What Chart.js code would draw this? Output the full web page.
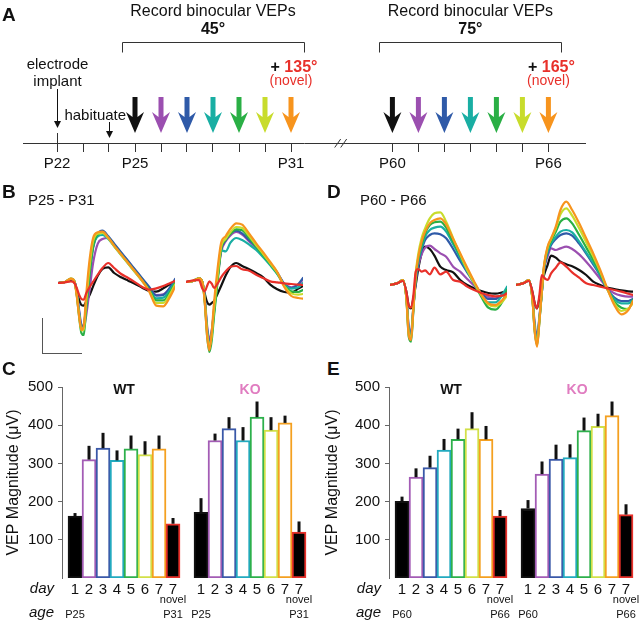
<!DOCTYPE html>
<html>
<head>
<meta charset="utf-8">
<script src="https://cdn.jsdelivr.net/npm/chart.js@4.4.1/dist/chart.umd.min.js"></script>
<style>
  body { margin: 0; background: #fff; }
  #page { position: relative; width: 640px; height: 621px; overflow: hidden;
          font-family: "Liberation Sans", Arial, Helvetica, sans-serif; color: #111; }
  #page canvas, #page .lbl, #page .scalebar { position: absolute; }
  .lbl { line-height: 1; white-space: nowrap; }
  .panel { font-weight: bold; font-size: 19px; }
  .sub { font-size: 15px; }
  .scalebar { background: #555; }
</style>
</head>
<body>
<div id="page">
  <canvas id="timeline" width="640" height="175" style="left:0;top:0;width:640px;height:175px"></canvas>
  <canvas id="traceWt25" width="117" height="200" style="left:58px;top:183px;width:117px;height:200px"></canvas>
  <canvas id="traceKo25" width="117" height="200" style="left:186px;top:182px;width:117px;height:200px"></canvas>
  <canvas id="traceWt60" width="117" height="200" style="left:390px;top:185px;width:117px;height:200px"></canvas>
  <canvas id="traceKo60" width="117" height="200" style="left:516px;top:185px;width:117px;height:200px"></canvas>
  <canvas id="barsP25" width="320" height="241" style="left:0;top:380px;width:320px;height:241px"></canvas>
  <canvas id="barsP60" width="320" height="241" style="left:320px;top:380px;width:320px;height:241px"></canvas>

  <div class="lbl panel" style="left:2px;top:5px">A</div>
  <div class="lbl panel" style="left:2px;top:182px">B</div>
  <div class="lbl sub" style="left:28px;top:192px">P25 - P31</div>
  <div class="lbl panel" style="left:327px;top:182px">D</div>
  <div class="lbl sub" style="left:360px;top:192px">P60 - P66</div>
  <div class="lbl panel" style="left:2px;top:359px">C</div>
  <div class="lbl panel" style="left:327px;top:359px">E</div>

  <div class="scalebar" style="left:42px;top:318px;width:1px;height:36px"></div>
  <div class="scalebar" style="left:42px;top:353px;width:40px;height:1px"></div>
</div>
<script>
// ---------- panel A: experiment timeline ----------
const tickDays = [22, 23, 24, 25, 26, 27, 28, 29, 30, 31, 60, 61, 62, 63, 64, 65, 66];
const labeledDays = [22, 25, 31, 60, 66];
const recordDays = [25, 26, 27, 28, 29, 30, 31, 60, 61, 62, 63, 64, 65, 66];
const implantDay = 22;
const habituateDay = 24;
const windowFirst = [25, 60];
const windowLast = [31, 66];
const trainAngles = ['45°', '75°'];
const novelAngles = ['135°', '165°'];

// ---------- panels B, D: averaged VEP waveforms (µV vs ms) ----------
const traceTimes = [0, 30, 55, 70, 80, 90, 100, 110, 120, 135, 150, 170, 190, 215, 240, 270, 300, 330, 360, 390, 420, 450, 480, 500];

const wt25Day1 = [0, 3, 8, 3, -20, -50, -66, -68, -56, -36, -10, 22, 42, 47, 30, 17, 7, -3, -14, -24, -26, -16, -3, 6];
const wt25Day2 = [0, 3, 12, 5, -25, -80, -125, -132, -100, -20, 60, 118, 132, 135, 115, 90, 64, 38, 12, -14, -36, -34, -14, 5];
const wt25Day3 = [0, 3, 12, 5, -30, -85, -130, -125, -70, 25, 105, 148, 157, 140, 118, 92, 66, 40, 14, -12, -38, -36, -12, 12];
const wt25Day4 = [0, 3, 12, 5, -32, -90, -138, -135, -70, 35, 110, 140, 144, 132, 110, 84, 58, 32, 6, -20, -46, -44, -20, 3];
const wt25Day5 = [0, 3, 13, 5, -35, -100, -150, -156, -80, 30, 110, 146, 150, 136, 112, 86, 60, 34, 8, -20, -52, -52, -26, 0];
const wt25Day6 = [0, 3, 13, 5, -35, -95, -142, -140, -60, 50, 125, 148, 150, 134, 110, 84, 58, 32, 6, -24, -60, -60, -32, -5];
const wt25Day7 = [0, 3, 13, 5, -38, -98, -141, -130, -40, 70, 135, 152, 154, 136, 112, 86, 60, 34, 7, -26, -68, -70, -40, -12];
const wt25Novel = [0, 2, 5, 0, -15, -35, -48, -50, -32, -12, 4, 25, 45, 60, 45, 27, 15, 2, -12, -20, -16, -9, 0, 6];

const ko25Day1 = [0, 3, 8, -10, -35, -60, -68, -63, -57, -35, -12, 20, 45, 57, 48, 38, 27, 14, -8, -22, -30, -32, -20, -12];
const ko25Day2 = [0, 3, 11, 0, -45, -130, -170, -145, -85, 10, 90, 122, 140, 150, 142, 122, 102, 80, 55, 28, -5, -16, -8, 8];
const ko25Day3 = [0, 3, 11, 0, -50, -140, -185, -150, -80, 15, 96, 126, 146, 154, 146, 126, 106, 82, 56, 28, -6, -18, -6, 12];
const ko25Day4 = [0, 3, 11, 0, -50, -145, -190, -160, -90, 10, 95, 92, 118, 132, 126, 112, 96, 74, 50, 24, -8, -20, -16, -3];
const ko25Day5 = [0, 3, 11, 0, -58, -160, -210, -175, -100, 0, 98, 128, 145, 158, 155, 132, 106, 80, 54, 26, -10, -28, -30, -24];
const ko25Day6 = [0, 3, 11, 0, -55, -150, -195, -160, -80, 20, 105, 130, 150, 165, 162, 138, 110, 84, 56, 28, -12, -34, -38, -36];
const ko25Day7 = [0, 3, 11, 0, -60, -160, -205, -150, -60, 40, 117, 138, 160, 176, 172, 145, 116, 89, 60, 30, -15, -42, -48, -50];
const ko25Novel = [0, 5, 6, -20, -28, -12, 2, -5, -18, -5, 14, 32, 46, 48, 38, 34, 22, 12, 2, -1, -4, -6, -8, -9];

const wt60Day1 = [0, 5, 12, -20, -62, -70, -40, 0, 45, 95, 115, 108, 88, 55, 45, 38, 15, 0, -10, -18, -24, -26, -22, -18];
const wt60Day2 = [0, 5, 15, -35, -125, -140, -65, 10, 55, 92, 112, 118, 108, 95, 85, 55, 40, 18, -2, -25, -36, -40, -28, -15];
const wt60Day3 = [0, 5, 15, -36, -130, -145, -65, 15, 65, 105, 135, 150, 155, 152, 140, 108, 72, 38, 5, -25, -42, -42, -28, -15];
const wt60Day4 = [0, 5, 15, -38, -140, -155, -70, 20, 70, 112, 145, 165, 172, 175, 160, 122, 82, 42, 5, -30, -52, -52, -30, -5];
const wt60Day5 = [0, 5, 15, -40, -155, -170, -75, 25, 75, 120, 155, 180, 188, 190, 172, 130, 88, 46, 6, -35, -68, -74, -50, -15];
const wt60Day6 = [0, 5, 15, -40, -145, -158, -65, 35, 90, 140, 170, 200, 215, 218, 190, 140, 92, 45, 5, -30, -58, -64, -50, -32];
const wt60Day7 = [0, 5, 15, -40, -150, -165, -70, 30, 80, 130, 160, 185, 195, 200, 182, 138, 95, 52, 10, -28, -55, -60, -45, -28];
const wt60Novel = [0, 5, 12, -20, -62, -68, -30, 40, 48, 40, 44, 32, 52, 32, 40, 15, 10, -5, -15, -24, -30, -34, -32, -25];

const ko60Day1 = [0, 5, 12, -20, -55, -70, -40, -5, 30, 60, 88, 82, 70, 62, 56, 45, 30, 10, 0, -8, -12, -16, -19, -20];
const ko60Day2 = [0, 5, 15, -35, -115, -155, -95, -25, 45, 85, 110, 105, 110, 115, 108, 92, 70, 45, 18, -10, -25, -32, -35, -35];
const ko60Day3 = [0, 5, 15, -35, -125, -165, -100, -25, 50, 95, 120, 138, 150, 155, 148, 124, 94, 62, 28, -12, -38, -48, -48, -42];
const ko60Day4 = [0, 5, 15, -40, -130, -170, -105, -25, 50, 100, 125, 145, 160, 165, 158, 130, 98, 66, 30, -12, -42, -55, -55, -45];
const ko60Day5 = [0, 5, 15, -40, -140, -180, -110, -25, 55, 108, 132, 160, 190, 200, 185, 150, 113, 76, 35, -12, -50, -68, -72, -45];
const ko60Day6 = [0, 5, 15, -40, -135, -178, -105, -20, 58, 112, 138, 170, 212, 230, 208, 170, 128, 86, 40, -12, -55, -78, -70, -55];
const ko60Day7 = [0, 5, 15, -40, -140, -185, -110, -20, 60, 115, 140, 175, 225, 250, 225, 185, 140, 95, 45, -10, -60, -88, -75, -48];
const ko60Novel = [0, 5, 12, -20, -55, -70, -30, 30, 22, 15, 35, 52, 68, 55, 38, 22, 5, 0, -5, -10, -15, -20, -26, -30];

// ---------- panels C, E: VEP magnitude (µV), mean and SEM ----------
const dayLabels = ['1', '2', '3', '4', '5', '6', '7', '7'];
const wtSlots = [1, 2, 3, 4, 5, 6, 7, 8];
const koSlots = [10, 11, 12, 13, 14, 15, 16, 17];
const agesP25 = ['P25', 'P31'];
const agesP60 = ['P60', 'P66'];

const wtP25 = [162, 310, 340, 308, 338, 323, 338, 142];
const wtP25Sem = [8, 36, 40, 26, 35, 35, 35, 15];
const koP25 = [172, 360, 391, 360, 421, 387, 406, 120];
const koP25Sem = [37, 18, 30, 35, 41, 34, 19, 28];

const wtP60 = [201, 264, 289, 335, 363, 391, 363, 162];
const wtP60Sem = [12, 23, 31, 29, 28, 43, 35, 16];
const koP60 = [182, 272, 311, 315, 386, 397, 425, 166];
const koP60Sem = [22, 33, 38, 35, 34, 33, 37, 27];

// ---------- styling ----------
const FONT = '"Liberation Sans", Arial, Helvetica, sans-serif';
const RED = '#e8302a';
const KO_PINK = '#e07cc0';
const dayColors = ['#111111', '#9b4fb0', '#2f5aa8', '#19aea3', '#2aaf45', '#c8dc2c', '#f7941d', RED];
const barEdges = ['#111111', '#a35cb5', '#3a58a8', '#22aabf', '#2db04b', '#d2e048', '#f4a020', RED];
const barFills = ['#000000', '#ffffff', '#ffffff', '#ffffff', '#ffffff', '#ffffff', '#ffffff', '#000000'];

Chart.defaults.font.family = FONT;
Chart.defaults.color = '#111';

function text(ctx, str, x, y, font, color, align) {
  ctx.font = font;
  ctx.fillStyle = color;
  ctx.textAlign = align || 'center';
  ctx.textBaseline = 'alphabetic';
  ctx.fillText(str, x, y);
}

// axis break: the second recording window is drawn right after a short gap
function slot(day) {
  return day < 45 ? day - 22 : day - 60 + 12.9;
}

function fatArrow(ctx, x, color) {
  ctx.fillStyle = color;
  ctx.beginPath();
  ctx.moveTo(x - 2.5, 97);
  ctx.lineTo(x + 2.5, 97);
  ctx.lineTo(x + 2.5, 117);
  ctx.lineTo(x + 9, 112);
  ctx.lineTo(x, 133);
  ctx.lineTo(x - 9, 112);
  ctx.lineTo(x - 2.5, 117);
  ctx.closePath();
  ctx.fill();
}

function thinArrow(ctx, x, y0, y1) {
  ctx.strokeStyle = '#111';
  ctx.fillStyle = '#111';
  ctx.lineWidth = 1;
  ctx.beginPath();
  ctx.moveTo(x, y0);
  ctx.lineTo(x, y1 - 5);
  ctx.stroke();
  ctx.beginPath();
  ctx.moveTo(x - 3.5, y1 - 7);
  ctx.lineTo(x + 3.5, y1 - 7);
  ctx.lineTo(x, y1);
  ctx.closePath();
  ctx.fill();
}

const timelineMarks = {
  id: 'timelineMarks',
  afterDraw(chart) {
    const ctx = chart.ctx;
    const xs = chart.scales.x;
    const px = d => xs.getPixelForValue(slot(d));
    const half = xs.getPixelForValue(0.5) - xs.getPixelForValue(0);
    const axisY = chart.chartArea.bottom;
    ctx.save();

    chart.getDatasetMeta(0).data.forEach((pt, i) => fatArrow(ctx, pt.x, dayColors[i % 7]));

    for (let w = 0; w < windowFirst.length; w++) {
      const a = Math.round(px(windowFirst[w]) - half) + 0.5;
      const b = Math.round(px(windowLast[w]) + half) + 0.5;
      const mid = (px(windowFirst[w]) + px(windowLast[w])) / 2;
      text(ctx, 'Record binocular VEPs', mid, 16, '16px ' + FONT, '#111', 'center');
      text(ctx, trainAngles[w], mid, 33.5, 'bold 16px ' + FONT, '#111', 'center');
      ctx.strokeStyle = '#333';
      ctx.lineWidth = 1;
      ctx.beginPath();
      ctx.moveTo(a, 52.5);
      ctx.lineTo(a, 42.5);
      ctx.lineTo(b, 42.5);
      ctx.lineTo(b, 52.5);
      ctx.stroke();

      const last = px(windowLast[w]);
      ctx.font = 'bold 16px ' + FONT;
      const wPlus = ctx.measureText('+ ').width;
      const wAng = ctx.measureText(novelAngles[w]).width;
      const x0 = last + 3 - (wPlus + wAng) / 2;
      text(ctx, '+ ', x0, 72, 'bold 16px ' + FONT, '#111', 'left');
      text(ctx, novelAngles[w], x0 + wPlus, 72, 'bold 16px ' + FONT, RED, 'left');
      text(ctx, '(novel)', last, 85, '14px ' + FONT, RED, 'center');
    }

    const xi = Math.round(px(implantDay)) + 0.5;
    text(ctx, 'electrode', xi, 69, '15px ' + FONT, '#111', 'center');
    text(ctx, 'implant', xi, 86, '15px ' + FONT, '#111', 'center');
    thinArrow(ctx, xi, 89, 128);
    ctx.strokeStyle = '#333';
    ctx.beginPath();
    ctx.moveTo(xi, 133);
    ctx.lineTo(xi, axisY);
    ctx.stroke();

    const xh = Math.round(px(habituateDay)) + 0.5;
    text(ctx, 'habituate', (px(habituateDay - 1) + xh) / 2 - 1, 120, '15px ' + FONT, '#111', 'center');
    thinArrow(ctx, xh, 122, 138);

    // axis break marks
    const xb = (px(windowLast[0]) + px(windowFirst[1])) / 2;
    ctx.strokeStyle = '#333';
    ctx.lineWidth = 1;
    [-3, 3].forEach(d => {
      ctx.beginPath();
      ctx.moveTo(xb + d - 4, axisY + 4.5);
      ctx.lineTo(xb + d + 2, axisY - 4);
      ctx.stroke();
    });
    ctx.restore();
  }
};

new Chart(document.getElementById('timeline'), {
  type: 'scatter',
  data: {
    datasets: [{ data: recordDays.map(d => ({ x: slot(d), y: 0 })), pointRadius: 0 }]
  },
  options: {
    responsive: false,
    animation: false,
    devicePixelRatio: 1,
    layout: { padding: { left: 23, right: 55, top: 0, bottom: 0 } },
    plugins: { legend: { display: false }, tooltip: { enabled: false } },
    scales: {
      x: {
        type: 'linear',
        offset: false,
        min: -34 / 26,
        max: -34 / 26 + 562 / 26,
        afterBuildTicks: s => { s.ticks = tickDays.map(d => ({ value: slot(d) })); },
        afterFit: s => { s.height = 32; s.paddingLeft = 0; s.paddingRight = 0; },
        grid: { drawOnChartArea: false, drawTicks: true, tickLength: 9, color: '#333', lineWidth: 1 },
        border: { display: true, color: '#333', width: 1 },
        ticks: {
          autoSkip: false,
          maxRotation: 0,
          padding: 3,
          color: '#111',
          font: { size: 15 },
          callback: (v, i) => labeledDays.includes(tickDays[i]) ? 'P' + tickDays[i] : ''
        }
      },
      y: { display: false, min: 0, max: 1 }
    }
  },
  plugins: [timelineMarks]
});

// ---------- VEP waveforms ----------
function traceChart(id, series) {
  const drawOrder = [7, 6, 5, 4, 3, 2, 1, 0]; // first dataset ends up on top
  new Chart(document.getElementById(id), {
    type: 'line',
    data: {
      datasets: drawOrder.map(k => ({
        data: series[k].map((v, i) => ({ x: traceTimes[i], y: v })),
        borderColor: dayColors[k],
        borderWidth: 2.2,
        borderJoinStyle: 'round',
        borderCapStyle: 'round',
        pointRadius: 0,
        cubicInterpolationMode: 'monotone',
        fill: false
      }))
    },
    options: {
      responsive: false,
      animation: false,
      devicePixelRatio: 1,
      layout: { padding: 0 },
      plugins: { legend: { display: false }, tooltip: { enabled: false } },
      scales: {
        x: { type: 'linear', display: false, min: 0, max: 500 },
        y: { display: false, min: -300, max: 300 }
      }
    }
  });
}

traceChart('traceWt25', [wt25Day1, wt25Day2, wt25Day3, wt25Day4, wt25Day5, wt25Day6, wt25Day7, wt25Novel]);
traceChart('traceKo25', [ko25Day1, ko25Day2, ko25Day3, ko25Day4, ko25Day5, ko25Day6, ko25Day7, ko25Novel]);
traceChart('traceWt60', [wt60Day1, wt60Day2, wt60Day3, wt60Day4, wt60Day5, wt60Day6, wt60Day7, wt60Novel]);
traceChart('traceKo60', [ko60Day1, ko60Day2, ko60Day3, ko60Day4, ko60Day5, ko60Day6, ko60Day7, ko60Novel]);

// ---------- magnitude bars ----------
const barMarks = {
  id: 'barMarks',
  afterDatasetsDraw(chart) {
    const ctx = chart.ctx;
    const ys = chart.scales.y;
    ctx.save();
    ctx.strokeStyle = '#111';
    ctx.lineWidth = 3;
    chart.data.datasets.forEach((ds, k) => {
      chart.getDatasetMeta(k).data.forEach((bar, i) => {
        const top = ds.data[i].y + ds.sem[i];
        ctx.beginPath();
        ctx.moveTo(bar.x, bar.y);
        ctx.lineTo(bar.x, ys.getPixelForValue(top));
        ctx.stroke();
      });
    });
    ctx.restore();
  },
  afterDraw(chart, args, opts) {
    const ctx = chart.ctx;
    const xs = chart.scales.x;
    const area = chart.chartArea;
    ctx.save();
    chart.data.datasets.forEach(ds => {
      const slots = ds.data.map(p => p.x);
      const mid = xs.getPixelForValue((slots[3] + slots[4]) / 2);
      text(ctx, ds.name, mid, area.top + 7, 'bold 14px ' + FONT, ds.nameColor, 'center');
      const first = xs.getPixelForValue(slots[0]);
      const last = xs.getPixelForValue(slots[slots.length - 1]);
      text(ctx, 'novel', last, area.bottom + 25, '11px ' + FONT, '#111', 'center');
      text(ctx, opts.ages[0], first, area.bottom + 40, '11px ' + FONT, '#111', 'center');
      text(ctx, opts.ages[1], last, area.bottom + 40, '11px ' + FONT, '#111', 'center');
    });
    text(ctx, 'day', area.left - 8, area.bottom + 15, 'italic 15px ' + FONT, '#111', 'right');
    text(ctx, 'age', area.left - 8, area.bottom + 39, 'italic 15px ' + FONT, '#111', 'right');
    ctx.restore();
  }
};

function barDataset(slots, values, sem, name, nameColor) {
  return {
    data: slots.map((x, i) => ({ x: x, y: values[i] })),
    sem: sem,
    name: name,
    nameColor: nameColor,
    backgroundColor: barFills,
    borderColor: barEdges,
    borderWidth: 2,
    borderSkipped: false,
    barThickness: 14,
    grouped: false
  };
}

function barChart(id, wt, wtSem, ko, koSem, ages, axisWidth, titlePad) {
  const xMin = 0.07, xMax = 17.68;
  const padRight = 320 - axisWidth - (xMax - xMin) * 14;
  const allSlots = wtSlots.concat(koSlots);
  new Chart(document.getElementById(id), {
    type: 'bar',
    data: {
      datasets: [
        barDataset(wtSlots, wt, wtSem, 'WT', '#111'),
        barDataset(koSlots, ko, koSem, 'KO', KO_PINK)
      ]
    },
    options: {
      responsive: false,
      animation: false,
      devicePixelRatio: 1,
      layout: { padding: { top: 7, right: padRight, left: 0, bottom: 0 } },
      plugins: { legend: { display: false }, tooltip: { enabled: false }, barMarks: { ages: ages } },
      scales: {
        x: {
          type: 'linear',
          offset: false,
          min: xMin,
          max: xMax,
          afterBuildTicks: s => { s.ticks = allSlots.map(v => ({ value: v })); },
          afterFit: s => { s.height = 43; s.paddingLeft = 0; s.paddingRight = 0; },
          grid: { display: false, drawTicks: false, offset: false },
          border: { display: false },
          ticks: {
            autoSkip: false,
            maxRotation: 0,
            padding: 3,
            color: '#111',
            font: { size: 15 },
            callback: (v, i) => dayLabels[i % dayLabels.length]
          }
        },
        y: {
          min: 0,
          max: 500,
          afterBuildTicks: s => { s.ticks = [100, 200, 300, 400, 500].map(v => ({ value: v })); },
          afterFit: s => { s.width = axisWidth; s.paddingTop = 0; s.paddingBottom = 0; },
          grid: { drawOnChartArea: false, drawTicks: true, tickLength: 4, color: '#666' },
          border: { display: true, color: '#666', width: 1 },
          ticks: { padding: 5, color: '#111', font: { size: 15 } },
          title: {
            display: true,
            text: 'VEP Magnitude (μV)',
            color: '#111',
            font: { size: 16 },
            padding: { top: titlePad, bottom: 0 }
          }
        }
      }
    },
    plugins: [barMarks]
  });
}

barChart('barsP25', wtP25, wtP25Sem, koP25, koP25Sem, agesP25, 62, 4);
barChart('barsP60', wtP60, wtP60Sem, koP60, koP60Sem, agesP60, 69, 3);
</script>
</body>
</html>
